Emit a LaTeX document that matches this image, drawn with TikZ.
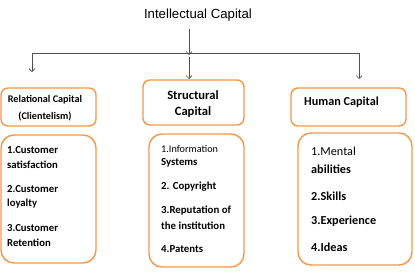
\documentclass[tikz,border=0pt]{standalone}
\usepackage{fontspec}
\setmainfont{Carlito}
\newfontfamily\arialfont{Liberation Sans}
\usetikzlibrary{arrows.meta}
\definecolor{boxorange}{RGB}{247,150,70}
\definecolor{linegray}{RGB}{80,80,80}
\begin{document}
\begin{tikzpicture}[x=1pt,y=-1pt,
  headbox/.style={draw=boxorange,line width=1.4pt,rounded corners=7pt,inner sep=0pt},
  listbox/.style={draw=boxorange,line width=1.4pt,rounded corners=13pt,inner sep=0pt},
  conn/.style={draw=linegray,line width=0.7pt,-{Straight Barb[length=3pt,width=6pt]}},
  plain/.style={draw=linegray,line width=0.7pt},
  item/.style={anchor=west,inner sep=0pt,font=\bfseries\fontsize{10.7}{12}\selectfont},
  mitem/.style={anchor=west,inner sep=0pt,font=\bfseries\fontsize{10.8}{12}\selectfont},
  ritem/.style={anchor=west,inner sep=0pt,font=\bfseries\fontsize{12.2}{14}\selectfont}]
\useasboundingbox (0,0) rectangle (415,273);
% title
\node[inner sep=0pt,font=\arialfont\fontsize{13.2}{15}\selectfont] (title) at (198,15) {Intellectual Capital};
% header boxes
\node[headbox,minimum width=95pt,minimum height=38pt] (rel) at (48.5,107) {};
\node[headbox,minimum width=101pt,minimum height=45pt] (str) at (193.5,102.5) {};
\node[headbox,minimum width=115pt,minimum height=38pt] (hum) at (348.5,107) {};
% list boxes
\node[listbox,minimum width=95pt,minimum height=128pt] (relL) at (48.5,199) {};
\node[listbox,minimum width=95pt,minimum height=133pt] (strL) at (196.5,200.5) {};
\node[listbox,minimum width=114pt,minimum height=132pt] (humL) at (355,199) {};
% header texts
\node[inner sep=0pt,font=\bfseries\fontsize{10.2}{12}\selectfont] (relT1) at (45,100) {Relational Capital};
\node[inner sep=0pt,font=\bfseries\fontsize{10.2}{12}\selectfont] (relT2) at (45,116) {(Clientelism)};
\node[inner sep=0pt,font=\bfseries\fontsize{12.6}{14}\selectfont] (strT1) at (193,95) {Structural};
\node[inner sep=0pt,font=\bfseries\fontsize{12.6}{14}\selectfont] (strT2) at (193,112) {Capital};
\node[anchor=west,inner sep=0pt,font=\bfseries\fontsize{12.2}{14}\selectfont] (humT) at (304,102) {Human Capital};
% left list
\node[item] (l1) at (7,150) {1.Customer};
\node[item] (l2) at (7,165) {satisfaction};
\node[item] (l3) at (7,189) {2.Customer};
\node[item] (l4) at (7,204) {loyalty};
\node[item] (l5) at (7,228) {3.Customer};
\node[item] (l6) at (7,243) {Retention};
% middle list
\node[mitem,font=\fontsize{10.2}{12}\selectfont] (m1) at (161,149) {1.Information};
\node[mitem] (m2) at (161,163) {Systems};
\node[mitem] (m3) at (161,187) {2. Copyright};
\node[mitem] (m4) at (161,211) {3.Reputation of};
\node[mitem] (m5) at (161,226) {the institution};
\node[mitem] (m6) at (161,249) {4.Patents};
% right list
\node[ritem,font=\fontsize{12.2}{14}\selectfont] (r1) at (311,151) {1.Mental};
\node[ritem] (r2) at (311,169) {abilities};
\node[ritem] (r3) at (311,196) {2.Skills};
\node[ritem] (r4) at (311,221) {3.Experience};
\node[ritem] (r5) at (311,247) {4.Ideas};
% connectors
\coordinate (t0) at (189,29);
\coordinate (t1) at (189,55);
\coordinate (hL) at (32,53);
\coordinate (hR) at (359,53);
\coordinate (aL) at (32,72);
\coordinate (m0) at (189,57);
\coordinate (aM) at (189,79);
\coordinate (aR) at (359,79);
\draw[conn] (t0) -- (t1);
\draw[plain] (hL) -- (hR);
\draw[conn] (hL) -- (aL);
\draw[conn] (m0) -- (aM);
\draw[conn] (hR) -- (aR);
\end{tikzpicture}
\end{document}
